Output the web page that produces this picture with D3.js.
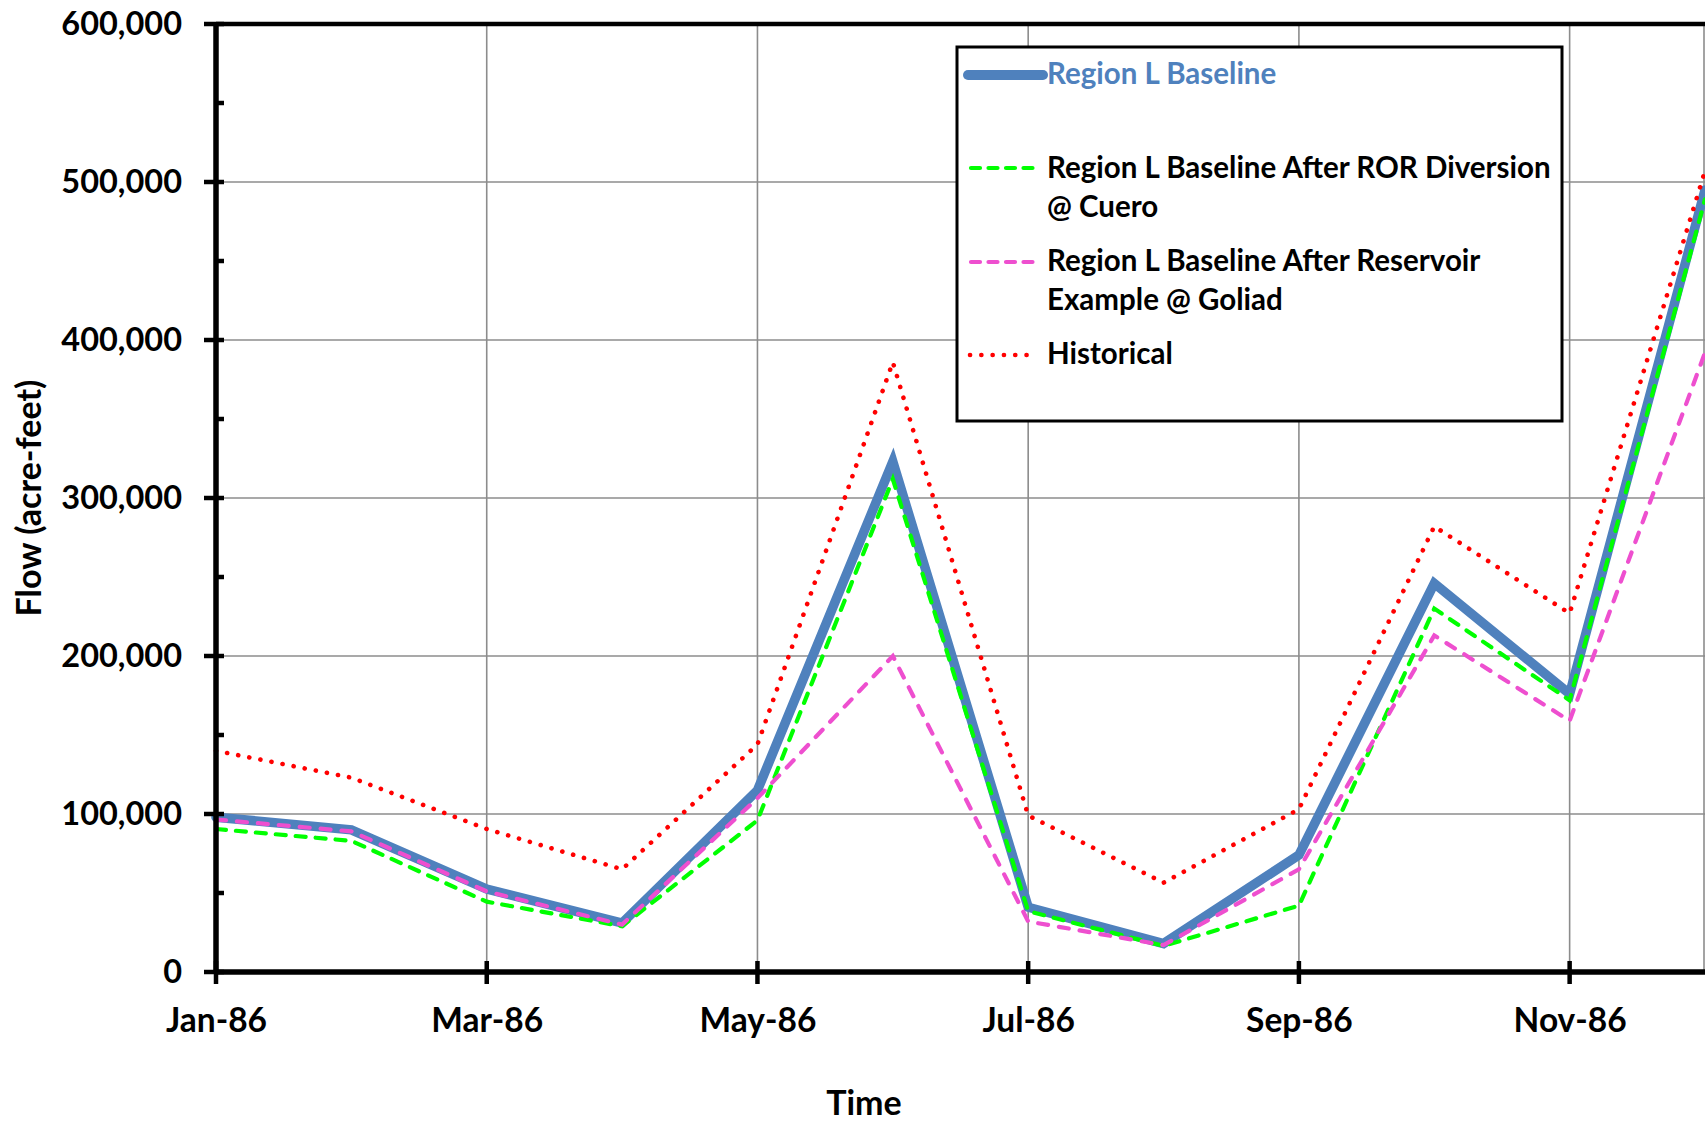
<!DOCTYPE html>
<html>
<head>
<meta charset="utf-8">
<script src="https://cdn.jsdelivr.net/npm/d3@7"></script>
<style>
  html, body { margin: 0; padding: 0; background: #fff; }
  svg { display: block; }
  text { font-family: Lato, "Open Sans", sans-serif; font-weight: 700; }
</style>
</head>
<body>
<script>
// Monthly flow, 1986 (acre-feet)
const months = ["Jan-86","Feb-86","Mar-86","Apr-86","May-86","Jun-86","Jul-86","Aug-86","Sep-86","Oct-86","Nov-86","Dec-86"];
const baseline        = [98000, 90000, 52500, 31000, 115000, 323000, 41000, 18000, 74000, 246000, 176000, 495000];
const rorCuero        = [90500, 83000, 44500, 29000,  96000, 312000, 38500, 16500, 42000, 230000, 172000, 489000];
const reservoirGoliad = [96500, 89000, 51000, 30000, 110000, 200000, 32000, 17000, 65000, 213000, 159000, 392000];
const historical      = [140000, 123000, 90500, 65000, 144000, 386000, 99000, 56500, 103000, 282000, 227000, 507000];
const yTicks = [0, 100000, 200000, 300000, 400000, 500000, 600000];
const yMinorTicks = [50000, 150000, 250000, 350000, 450000, 550000];
const xTickLabels = ["Jan-86","Mar-86","May-86","Jul-86","Sep-86","Nov-86"];
const seriesNames = [
  ["Region L Baseline"],
  ["Region L Baseline After ROR Diversion", "@ Cuero"],
  ["Region L Baseline After Reservoir", "Example @ Goliad"],
  ["Historical"]
];

const W = 1705, H = 1123;
const plot = { left: 216, right: 1705, top: 24, bottom: 972 };

const svg = d3.select("body").append("svg").attr("width", W).attr("height", H);

const x = d3.scalePoint().domain(months).range([plot.left, plot.right]);
const y = d3.scaleLinear().domain([0, 600000]).range([plot.bottom, plot.top]);

const gridColor = "#8c8c8c";

// horizontal gridlines
svg.append("g").selectAll("line").data(yTicks.filter(v => v > 0 && v < 600000)).join("line")
  .attr("x1", plot.left).attr("x2", plot.right)
  .attr("y1", d => y(d)).attr("y2", d => y(d))
  .attr("stroke", gridColor).attr("stroke-width", 1.6);

// vertical gridlines
svg.append("g").selectAll("line").data(xTickLabels.slice(1)).join("line")
  .attr("x1", d => x(d)).attr("x2", d => x(d))
  .attr("y1", plot.top).attr("y2", plot.bottom)
  .attr("stroke", gridColor).attr("stroke-width", 1.6);
svg.append("line")
  .attr("x1", plot.right - 1).attr("x2", plot.right - 1)
  .attr("y1", plot.top).attr("y2", plot.bottom)
  .attr("stroke", gridColor).attr("stroke-width", 1.6);

// series
const line = d3.line().x((d, i) => x(months[i])).y(d => y(d));
const series = [
  { values: baseline,        color: "#4f81bd", width: 9.5, dash: null,    cap: "round" },
  { values: rorCuero,        color: "#00ff00", width: 4.2, dash: "10,10", cap: "round" },
  { values: reservoirGoliad, color: "#ee4fcf", width: 4.2, dash: "10,11", cap: "round" },
  { values: historical,      color: "#ff0000", width: 4.6, dash: "0.1,11.2", cap: "round" }
];
svg.append("g").selectAll("path").data(series).join("path")
  .attr("d", d => line(d.values))
  .attr("fill", "none")
  .attr("stroke", d => d.color)
  .attr("stroke-width", d => d.width)
  .attr("stroke-dasharray", d => d.dash)
  .attr("stroke-linecap", d => d.cap)
  .attr("stroke-linejoin", "miter");

// top border of plot area
svg.append("line")
  .attr("x1", plot.left).attr("x2", plot.right)
  .attr("y1", plot.top).attr("y2", plot.top)
  .attr("stroke", "#000").attr("stroke-width", 4.5);

// y axis
const yAxis = d3.axisLeft(y).tickValues(yTicks).tickSize(0).tickPadding(34)
  .tickFormat(d3.format(","));
const gy = svg.append("g").attr("transform", `translate(${plot.left},0)`).call(yAxis);
gy.select(".domain").remove();
gy.selectAll("text").attr("font-size", 32.5).attr("font-family", "Lato").attr("font-weight", 700).attr("fill", "#000");

svg.append("g").selectAll("line").data(yTicks).join("line")
  .attr("x1", plot.left - 12).attr("x2", plot.left + 8)
  .attr("y1", d => y(d)).attr("y2", d => y(d))
  .attr("stroke", "#000").attr("stroke-width", 4.5);
svg.append("g").selectAll("line").data(yMinorTicks).join("line")
  .attr("x1", plot.left).attr("x2", plot.left + 8)
  .attr("y1", d => y(d)).attr("y2", d => y(d))
  .attr("stroke", "#000").attr("stroke-width", 4.5);
svg.append("line")
  .attr("x1", plot.left).attr("x2", plot.left)
  .attr("y1", plot.top - 2).attr("y2", plot.bottom + 2)
  .attr("stroke", "#000").attr("stroke-width", 5.5);

// x axis
const xAxis = d3.axisBottom(x).tickValues(xTickLabels).tickSize(0).tickPadding(36);
const gx = svg.append("g").attr("transform", `translate(0,${plot.bottom})`).call(xAxis);
gx.select(".domain").remove();
gx.selectAll("text").attr("font-size", 33.5).attr("font-family", "Lato").attr("font-weight", 700).attr("fill", "#000");

svg.append("line")
  .attr("x1", plot.left - 2).attr("x2", plot.right)
  .attr("y1", plot.bottom).attr("y2", plot.bottom)
  .attr("stroke", "#000").attr("stroke-width", 5.5);
svg.append("g").selectAll("line").data(xTickLabels).join("line")
  .attr("x1", d => x(d)).attr("x2", d => x(d))
  .attr("y1", plot.bottom - 11).attr("y2", plot.bottom + 12)
  .attr("stroke", "#000").attr("stroke-width", 4.5);

// axis titles
svg.append("text")
  .attr("transform", "translate(41,498) rotate(-90)")
  .attr("text-anchor", "middle").attr("font-size", 34)
  .text("Flow (acre-feet)");
svg.append("text")
  .attr("x", 864).attr("y", 1115)
  .attr("text-anchor", "middle").attr("font-size", 34)
  .text("Time");

// legend
const legend = svg.append("g");
legend.append("rect")
  .attr("x", 957).attr("y", 47).attr("width", 605).attr("height", 374)
  .attr("fill", "#fff").attr("stroke", "#000").attr("stroke-width", 3);

const legendRows = [
  { s: series[0], sampleY: 75,  x1: 968, x2: 1043, baselines: [84],       color: "#4f81bd" },
  { s: series[1], sampleY: 168, x1: 971, x2: 1041, baselines: [178, 217], color: "#000" },
  { s: series[2], sampleY: 262, x1: 971, x2: 1041, baselines: [271, 310], color: "#000" },
  { s: series[3], sampleY: 355, x1: 970, x2: 1032, baselines: [364],      color: "#000" }
];
legendRows.forEach((r, i) => {
  legend.append("line")
    .attr("x1", r.x1).attr("x2", r.x2)
    .attr("y1", r.sampleY).attr("y2", r.sampleY)
    .attr("stroke", r.s.color)
    .attr("stroke-width", i === 0 ? 10 : r.s.width)
    .attr("stroke-dasharray", i === 1 || i === 2 ? "9,8.5" : r.s.dash)
    .attr("stroke-linecap", "round");
  seriesNames[i].forEach((t, j) => {
    legend.append("text")
      .attr("x", 1047).attr("y", r.baselines[j])
      .attr("font-size", 29.5).attr("fill", r.color)
      .text(t);
  });
});
</script>
</body>
</html>
